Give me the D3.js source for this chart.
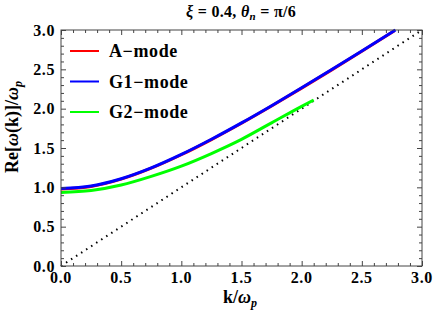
<!DOCTYPE html>
<html>
<head>
<meta charset="utf-8">
<script src="https://cdn.jsdelivr.net/npm/d3@7"></script>
<style>
  body { margin: 0; background: #fff; }
</style>
</head>
<body>
<script>
const width = 436, height = 327
const margin = {left: 61, right: 14, top: 30, bottom: 61}
const serif = '"Liberation Serif", "DejaVu Serif", "Times New Roman", serif'

// data
const kA = [0, 0.25, 0.5, 0.75, 1.0, 1.25, 1.5, 1.75, 2.0, 2.25, 2.5, 2.77]
const aMode = [0.978, 1.011, 1.104, 1.243, 1.414, 1.607, 1.815, 2.034, 2.261, 2.493, 2.729, 2.99]
const kG1 = [0, 0.25, 0.5, 0.75, 1.0, 1.25, 1.5, 1.75, 2.0, 2.25, 2.5, 2.78]
const g1Mode = [0.985, 1.017, 1.109, 1.247, 1.418, 1.611, 1.819, 2.038, 2.265, 2.497, 2.733, 3.0]
const kG2 = [0, 0.25, 0.5, 0.75, 1.0, 1.25, 1.5, 1.75, 2.0, 2.1]
const g2Mode = [0.935, 0.96, 1.03, 1.14, 1.27, 1.43, 1.61, 1.82, 2.03, 2.11]
const kLight = [0, 3]
const lightLine = [0, 3]

const series = [
  {name: 'A\u2212mode', color: '#ff0000', k: kA, v: aMode},
  {name: 'G1\u2212mode', color: '#0000ff', k: kG1, v: g1Mode},
  {name: 'G2\u2212mode', color: '#00ff00', k: kG2, v: g2Mode}
]
const majorTicks = [0, 0.5, 1.0, 1.5, 2.0, 2.5, 3.0]
const minorTicks = d3.range(0, 31).map(i => i / 10).filter(t => Math.round(t * 10) % 5 !== 0)

let svg = d3.select('body').append('svg')
  .attr('width', width)
  .attr('height', height)
  .style('font-family', serif)
  .style('font-weight', 'bold')

const x = d3.scaleLinear().domain([0, 3]).range([margin.left, width - margin.right])
const y = d3.scaleLinear().domain([0, 3]).range([height - margin.bottom, margin.top])

const line = d3.line().x(d => x(d[0])).y(d => y(d[1])).curve(d3.curveMonotoneX)

let plot = svg.append('g')

// dotted light line
plot.append('path')
  .attr('d', line(kLight.map((k, i) => [k, lightLine[i]])))
  .style('fill', 'none')
  .style('stroke', '#000')
  .style('stroke-width', 2)
  .style('stroke-dasharray', '1.5,4.5')

series.forEach(s => {
  plot.append('path')
    .attr('d', line(s.k.map((k, i) => [k, s.v[i]])))
    .style('fill', 'none')
    .style('stroke', s.color)
    .style('stroke-width', 3)
})

// frame and ticks
const frameColor = '#444'
svg.append('rect')
  .attr('x', x(0)).attr('y', y(3))
  .attr('width', x(3) - x(0)).attr('height', y(0) - y(3))
  .style('fill', 'none').style('stroke', frameColor).style('stroke-width', 1)

const tickSides = [
  {axis: d3.axisBottom(x), tr: `translate(0,${y(0)})`},
  {axis: d3.axisTop(x), tr: `translate(0,${y(3)})`},
  {axis: d3.axisLeft(y), tr: `translate(${x(0)},0)`},
  {axis: d3.axisRight(y), tr: `translate(${x(3)},0)`}
]
tickSides.forEach(t => {
  svg.append('g').attr('transform', t.tr)
    .call(t.axis.tickValues(majorTicks).tickSizeInner(-5).tickSizeOuter(0).tickFormat(''))
    .call(g => g.select('.domain').remove())
    .call(g => g.selectAll('line').style('stroke', frameColor))
  svg.append('g').attr('transform', t.tr)
    .call(t.axis.tickValues(minorTicks).tickSizeInner(-3).tickSizeOuter(0).tickFormat(''))
    .call(g => g.select('.domain').remove())
    .call(g => g.selectAll('line').style('stroke', frameColor))
})

// tick labels
svg.append('g').selectAll('text').data(majorTicks).join('text')
  .attr('x', d => x(d)).attr('y', y(0) + 17)
  .attr('text-anchor', 'middle')
  .style('font-size', '16px')
  .style('letter-spacing', '0.6px')
  .text(d => d3.format('.1f')(d))
svg.append('g').selectAll('text').data(majorTicks).join('text')
  .attr('x', x(0) - 6).attr('y', d => y(d) + 5.5)
  .attr('text-anchor', 'end')
  .style('font-size', '16px')
  .style('letter-spacing', '0.6px')
  .text(d => d3.format('.1f')(d))

// axis titles
let xt = svg.append('text')
  .attr('x', 240).attr('y', 303)
  .attr('text-anchor', 'middle')
  .style('font-size', '18px')
xt.append('tspan').text('k/')
xt.append('tspan').style('font-style', 'italic').text('\u03c9')
xt.append('tspan').attr('dy', 4).style('font-size', '12px').style('font-style', 'italic').text('p')

let yt = svg.append('text')
  .attr('transform', `translate(18,127) rotate(-90)`)
  .attr('text-anchor', 'middle')
  .style('font-size', '18px')
yt.append('tspan').text('Re[')
yt.append('tspan').style('font-style', 'italic').text('\u03c9')
yt.append('tspan').text('(k)]/')
yt.append('tspan').style('font-style', 'italic').text('\u03c9')
yt.append('tspan').attr('dy', 4).style('font-size', '12px').style('font-style', 'italic').text('p')

// title
let title = svg.append('text')
  .attr('x', 241).attr('y', 17)
  .attr('text-anchor', 'middle')
  .style('font-size', '16px')
  .style('letter-spacing', '0.3px')
title.append('tspan').style('font-style', 'italic').text('\u03be')
title.append('tspan').text(' = 0.4, ')
title.append('tspan').style('font-style', 'italic').text('\u03b8')
title.append('tspan').attr('dy', 3).style('font-size', '11px').style('font-style', 'italic').text('n')
title.append('tspan').attr('dy', -3).text(' = \u03c0/6')

// legend
let legend = svg.append('g')
series.forEach((s, i) => {
  const ly = 51 + i * 30.5
  legend.append('line')
    .attr('x1', 70).attr('x2', 99).attr('y1', ly).attr('y2', ly)
    .style('stroke', s.color).style('stroke-width', 2)
  legend.append('text')
    .attr('x', 109).attr('y', ly + 6)
    .style('font-size', '18px')
    .style('letter-spacing', '0.6px')
    .text(s.name)
})
</script>
</body>
</html>
